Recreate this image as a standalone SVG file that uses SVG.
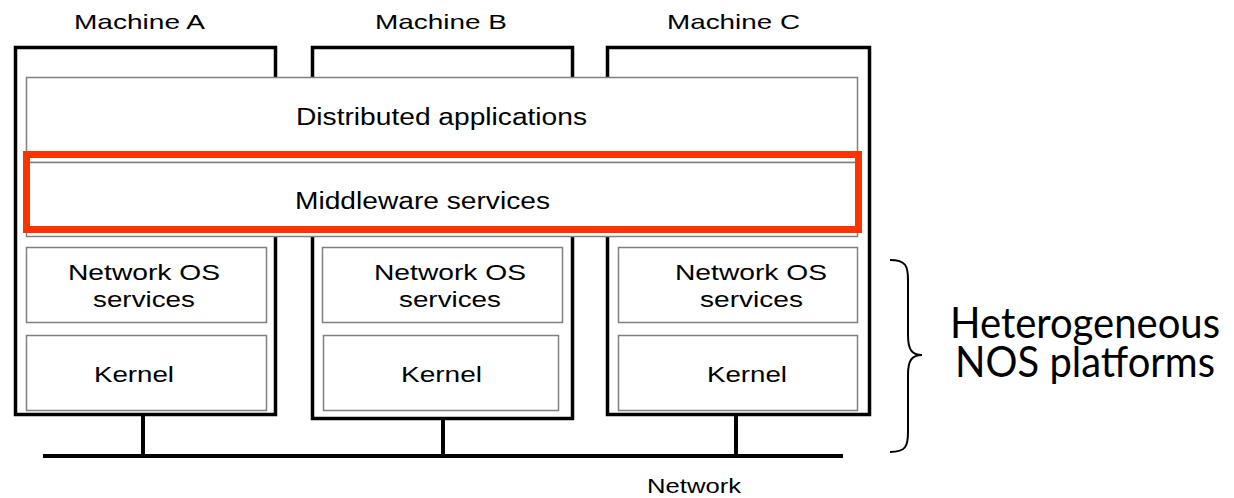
<svg xmlns="http://www.w3.org/2000/svg" width="1234" height="498" viewBox="0 0 1234 498">
<style>
.machine{fill:#fff;stroke:#000;stroke-width:3.5}
.layer{fill:#fff;stroke:#808080;stroke-width:1.5}
.hl{fill:none;stroke:#ff3300;stroke-width:7}
.net{stroke:#000;stroke-width:4;fill:none}
.t{font-family:"Liberation Sans",Arial,sans-serif;fill:#000;text-anchor:start}
.big{font-family:Lato,"Open Sans",sans-serif;font-size:43px;fill:#000}
.brace{fill:none;stroke:#000;stroke-width:2}
</style>
<g id="connectors">
<line class="net" x1="43" y1="456" x2="843" y2="456"/>
<line class="net" x1="143" y1="414" x2="143" y2="456"/>
<line class="net" x1="443" y1="418" x2="443" y2="456"/>
<line class="net" x1="736" y1="414" x2="736" y2="456"/>
</g>
<g id="machineA">
<rect class="machine" x="15.5" y="47.5" width="260" height="367"/>
<text class="t" x="74" y="29" font-size="21" textLength="131" lengthAdjust="spacingAndGlyphs">Machine A</text>
</g>
<g id="machineB">
<rect class="machine" x="312.5" y="47.5" width="260" height="371"/>
<text class="t" x="375" y="29" font-size="21" textLength="132" lengthAdjust="spacingAndGlyphs">Machine B</text>
</g>
<g id="machineC">
<rect class="machine" x="607.5" y="47.5" width="262" height="367"/>
<text class="t" x="667" y="29" font-size="21" textLength="133" lengthAdjust="spacingAndGlyphs">Machine C</text>
</g>
<g id="distributed">
<rect class="layer" x="26.5" y="77.5" width="831" height="85"/>
<text class="t" x="296" y="125" font-size="23" textLength="291" lengthAdjust="spacingAndGlyphs">Distributed applications</text>
</g>
<g id="middleware">
<rect class="layer" x="26.5" y="162.5" width="831" height="74"/>
<rect class="hl" x="26.5" y="154.5" width="832" height="75"/>
<text class="t" x="295" y="209" font-size="23" textLength="255" lengthAdjust="spacingAndGlyphs">Middleware services</text>
</g>
<g id="nosA">
<rect class="layer" x="26.5" y="247.5" width="240" height="75"/>
<text class="t" x="68" y="280" font-size="22" textLength="152" lengthAdjust="spacingAndGlyphs">Network OS</text>
<text class="t" x="93" y="307" font-size="22" textLength="102" lengthAdjust="spacingAndGlyphs">services</text>
</g>
<g id="kernelA">
<rect class="layer" x="26.5" y="335.5" width="240" height="75"/>
<text class="t" x="94" y="382" font-size="22" textLength="80" lengthAdjust="spacingAndGlyphs">Kernel</text>
</g>
<g id="nosB">
<rect class="layer" x="322.5" y="247.5" width="240" height="75"/>
<text class="t" x="374" y="280" font-size="22" textLength="152" lengthAdjust="spacingAndGlyphs">Network OS</text>
<text class="t" x="399" y="307" font-size="22" textLength="102" lengthAdjust="spacingAndGlyphs">services</text>
</g>
<g id="kernelB">
<rect class="layer" x="323.5" y="335.5" width="235" height="75"/>
<text class="t" x="401" y="382" font-size="22" textLength="81" lengthAdjust="spacingAndGlyphs">Kernel</text>
</g>
<g id="nosC">
<rect class="layer" x="618.5" y="247.5" width="239" height="75"/>
<text class="t" x="675" y="280" font-size="22" textLength="152" lengthAdjust="spacingAndGlyphs">Network OS</text>
<text class="t" x="700" y="307" font-size="22" textLength="103" lengthAdjust="spacingAndGlyphs">services</text>
</g>
<g id="kernelC">
<rect class="layer" x="618.5" y="335.5" width="239" height="75"/>
<text class="t" x="707" y="382" font-size="22" textLength="80" lengthAdjust="spacingAndGlyphs">Kernel</text>
</g>
<g id="network">
<text class="t" x="647" y="493" font-size="21" textLength="94" lengthAdjust="spacingAndGlyphs">Network</text>
</g>
<g id="platforms">
<path class="brace" d="M890,260 C906,260 908,266 908,280 L908,335 C908,350 912,355 922,355 C912,355 908,360 908,375 L908,432 C908,446 906,452 890,452"/>
<text class="big" x="950" y="338" textLength="270" lengthAdjust="spacingAndGlyphs">Heterogeneous</text>
<text class="big" x="955" y="377" textLength="260" lengthAdjust="spacingAndGlyphs">NOS platforms</text>
</g>
</svg>
